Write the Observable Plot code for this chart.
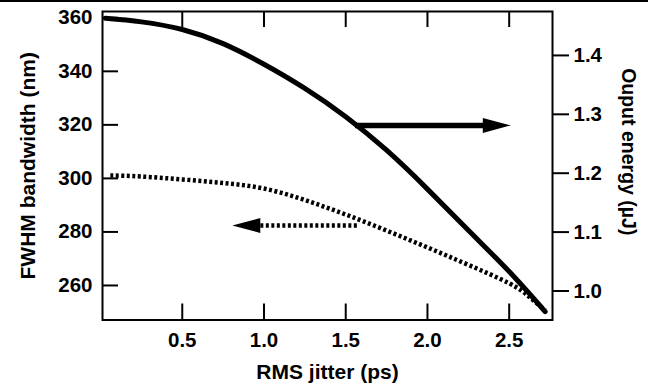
<!DOCTYPE html>
<html>
<head>
<meta charset="utf-8">
<script src="https://cdn.jsdelivr.net/npm/d3@7"></script>
<script src="https://cdn.jsdelivr.net/npm/@observablehq/plot@0.6"></script>
<style>
  body { margin: 0; background: #fff; }
  #topline { position: absolute; left: 0; top: 0; width: 648px; height: 1.5px; background: #000; }
  #chart { position: absolute; left: 0; top: 0; }
</style>
</head>
<body>
<div id="chart"></div>
<div id="topline"></div>
<script>
// RMS jitter (ps) sample positions
const jitterEnergy = [0.03, 0.25, 0.5, 0.75, 1.0, 1.25, 1.5, 1.75, 2.0, 2.25, 2.5, 2.72];
// Output energy (µJ) — solid curve, right axis
const energy = [1.463, 1.457, 1.444, 1.420, 1.385, 1.344, 1.296, 1.239, 1.173, 1.103, 1.033, 0.965];

const jitterBandwidth = [0.06, 0.25, 0.5, 0.75, 1.0, 1.25, 1.5, 1.75, 2.0, 2.25, 2.5, 2.62, 2.72];
// FWHM bandwidth (nm) — dotted curve, left axis
const bandwidth = [301.1, 300.7, 299.6, 298.3, 296.2, 291.9, 286.5, 280.5, 274.2, 267.7, 260.8, 255.9, 250.7];

// tick labels
const xTicks = [0.5, 1.0, 1.5, 2.0, 2.5];
const bwTicks = [260, 280, 300, 320, 340, 360];
const energyTicks = [1.0, 1.1, 1.2, 1.3, 1.4];

// annotation arrows (x in ps, y in nm)
const arrowEnergy = {x1: 1.56, x2: 2.35, tip: 2.51, y: 319.8};     // points right -> energy axis
const arrowBandwidth = {x1: 1.571, x2: 0.98, tip: 0.806, y: 282.4}; // points left -> bandwidth axis

// right-axis mapping (energy -> left-axis nm units)
const eBase = 1.0, nmAtBase = 257.94, nmPerEnergy = 220.0;
const toNm = e => nmAtBase + (e - eBase) * nmPerEnergy;
const toE = nm => eBase + (nm - nmAtBase) / nmPerEnergy;

const energyData = jitterEnergy.map((x, i) => ({x, y: toNm(energy[i])}));
const bwData = jitterBandwidth.map((x, i) => ({x, y: bandwidth[i]}));

const W = 648, H = 385, mL = 102, mR = 96, mT = 11, mB = 65.5;
const plotW = W - mL - mR, plotH = H - mT - mB;
const tick = 16;

const headSymbol = {
  draw(ctx) {
    ctx.moveTo(0, 0);
    ctx.lineTo(-28, -7.5);
    ctx.lineTo(-28, 7.5);
    ctx.closePath();
  }
};

const font = "'Liberation Sans', Arial, Helvetica, sans-serif";
const tickFont = 20.5, titleFont = 21;

const chart = Plot.plot({
  width: W, height: H,
  marginLeft: mL, marginRight: mR, marginTop: mT, marginBottom: mB,
  style: {fontFamily: font, fontSize: "20px", fontWeight: "bold", color: "#000", background: "#fff"},
  x: {domain: [0.012, 2.765]},
  y: {domain: [247.1, 362.35]},
  marks: [
    // curves
    Plot.line(energyData, {x: "x", y: "y", curve: "natural", stroke: "#000", strokeWidth: 5}),
    Plot.line(bwData, {x: "x", y: "y", curve: "natural", stroke: "#000", strokeWidth: 4.5, strokeDasharray: "3,2.5", strokeLinecap: "butt"}),
    // arrows
    Plot.ruleY([arrowEnergy], {y: "y", x1: "x1", x2: "x2", stroke: "#000", strokeWidth: 5.5}),
    Plot.dot([arrowEnergy], {x: "tip", y: "y", symbol: headSymbol, r: 5, fill: "#000", stroke: "none"}),
    Plot.ruleY([arrowBandwidth], {y: "y", x1: "x1", x2: "x2", stroke: "#000", strokeWidth: 4.5, strokeDasharray: "3,2.5"}),
    Plot.dot([arrowBandwidth], {x: "tip", y: "y", symbol: headSymbol, rotate: 180, r: 5, fill: "#000", stroke: "none"}),
    // inward ticks
    Plot.tickX(xTicks, {x: d => d, insetTop: plotH - tick, stroke: "#000", strokeWidth: 2}),
    Plot.tickX(xTicks, {x: d => d, insetBottom: plotH - tick, stroke: "#000", strokeWidth: 2}),
    Plot.tickY(bwTicks, {y: d => d, insetRight: plotW - tick, stroke: "#000", strokeWidth: 2}),
    // axes labels
    Plot.axisX(xTicks, {anchor: "bottom", tickSize: 0, tickPadding: 12, tickFormat: d => d.toFixed(1), label: null, fontSize: tickFont, fontWeight: "bold"}),
    Plot.axisY(bwTicks, {anchor: "left", tickSize: 0, tickPadding: 10, tickFormat: d => String(d), label: null, fontSize: tickFont, fontWeight: "bold"}),
    Plot.axisY(energyTicks.map(toNm), {anchor: "right", tickSize: tick, strokeWidth: 2, tickPadding: 5, tickFormat: d => toE(d).toFixed(1), label: null, fontSize: tickFont, fontWeight: "bold"}),
    // titles
    Plot.text(["RMS jitter (ps)"], {frameAnchor: "bottom", dy: 52, textAnchor: "middle", lineAnchor: "middle", fontSize: titleFont, fontWeight: "bold", fill: "#000"}),
    Plot.text(["FWHM bandwidth (nm)"], {frameAnchor: "left", dx: -74, rotate: -90, textAnchor: "middle", lineAnchor: "middle", fontSize: titleFont, fontWeight: "bold", fill: "#000"}),
    Plot.text(["Ouput energy (\u00b5J)"], {frameAnchor: "right", dx: 76, dy: -14, rotate: 90, textAnchor: "middle", lineAnchor: "middle", fontSize: 19.5, fontWeight: "bold", fill: "#000"}),
    Plot.frame({stroke: "#000", strokeWidth: 2})
  ]
});
document.getElementById("chart").appendChild(chart);
</script>
</body>
</html>
